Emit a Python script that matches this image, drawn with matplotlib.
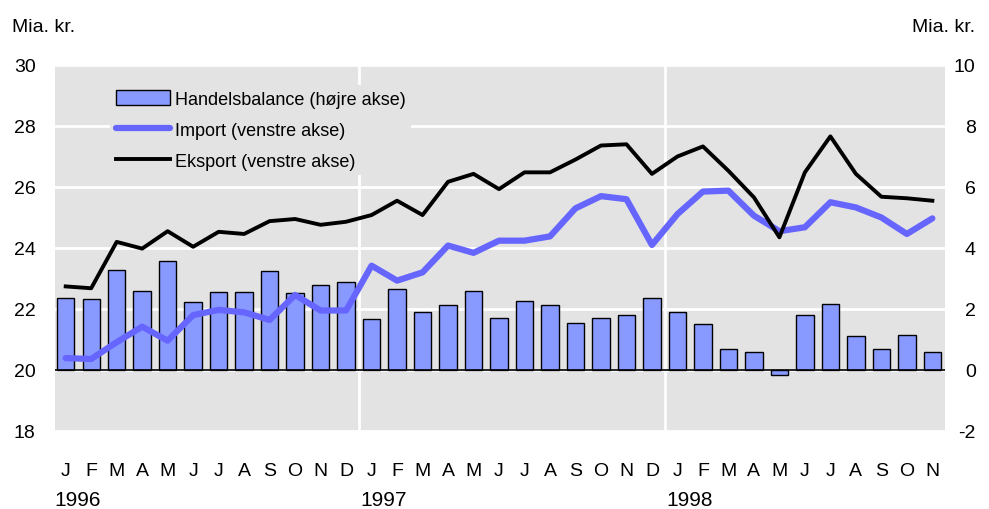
import matplotlib
matplotlib.use("Agg")
import matplotlib.pyplot as plt
import matplotlib.transforms as mtransforms

plt.rcParams['font.family'] = ['Liberation Sans Narrow', 'Liberation Sans', 'DejaVu Sans']
plt.rcParams['axes.unicode_minus'] = False

# data, Jan 1996 - Nov 1998
months = ['J', 'F', 'M', 'A', 'M', 'J', 'J', 'A', 'S', 'O', 'N', 'D'] * 2 + \
         ['J', 'F', 'M', 'A', 'M', 'J', 'J', 'A', 'S', 'O', 'N']
years = ['1996', '1997', '1998']

handelsbalance = [2.36, 2.33, 3.29, 2.60, 3.57, 2.24, 2.56, 2.57, 3.23, 2.52, 2.78, 2.87,
                  1.67, 2.64, 1.89, 2.13, 2.60, 1.69, 2.26, 2.12, 1.54, 1.69, 1.81, 2.35,
                  1.91, 1.50, 0.69, 0.60, -0.16, 1.79, 2.17, 1.12, 0.69, 1.16, 0.58]

eksport = [22.74, 22.68, 24.20, 23.98, 24.55, 24.04, 24.53, 24.46, 24.88, 24.95, 24.76, 24.86,
           25.08, 25.55, 25.08, 26.17, 26.43, 25.93, 26.48, 26.48, 26.90, 27.36, 27.40, 26.43,
           27.00, 27.33, 26.53, 25.66, 24.35, 26.48, 27.66, 26.43, 25.68, 25.63, 25.55]

import_ = [20.39, 20.36, 20.91, 21.42, 20.96, 21.80, 21.97, 21.89, 21.64, 22.46, 21.95, 21.95,
           23.42, 22.93, 23.20, 24.08, 23.84, 24.24, 24.24, 24.38, 25.30, 25.70, 25.60, 24.10,
           25.11, 25.85, 25.88, 25.06, 24.55, 24.68, 25.50, 25.33, 25.00, 24.46, 24.97]

x = list(range(len(months)))

fig = plt.figure(figsize=(9.89, 5.10), dpi=100)
ax = fig.add_axes([0.0556, 0.153, 0.9, 0.7176])
ax.set_facecolor('#e3e3e3')
for s in ax.spines.values():
    s.set_visible(False)

# bars on right-hand scale
ax.set_ylim(-2, 10)
ax.set_xlim(-0.42, 34.5)
ax.set_yticks([-2, 0, 2, 4, 6, 8, 10])
ax.grid(axis='y', color='white', linewidth=2)
for v in [11.5, 23.5]:
    ax.axvline(v, color='white', linewidth=2)
ax.set_axisbelow(True)
bars = ax.bar(x, handelsbalance, width=0.68, color='#8899ff', edgecolor='black', linewidth=1,
              zorder=2)
ax.axhline(0, color='black', linewidth=1.2, zorder=3)

# lines on left-hand scale
ax2 = ax.twinx()
for s in ax2.spines.values():
    s.set_visible(False)
ax2.set_ylim(18, 30)
ax2.set_yticks([18, 20, 22, 24, 26, 28, 30])
ax2.yaxis.tick_left()
ax.yaxis.tick_right()
l_imp, = ax2.plot(x, import_, color='#6666ff', linewidth=4.5, solid_capstyle='round')
l_eks, = ax2.plot(x, eksport, color='black', linewidth=2.8)

ax.tick_params(axis='y', length=0, labelsize=14, pad=22)
for lbl in ax.get_yticklabels():
    lbl.set_horizontalalignment('right')
ax2.tick_params(axis='y', length=0, labelsize=14, pad=14)

ax.set_xticks(x)
ax.set_xticklabels(months)
ax.tick_params(axis='x', length=0, pad=22, labelsize=14)

trans = mtransforms.blended_transform_factory(ax.transData, fig.transFigure)
for i, yr in enumerate(years):
    fig.text(12 * i - 0.45, 0.0, yr, transform=trans, fontsize=15, ha='left', va='bottom')

fig.text(0.012, 0.93, 'Mia. kr.', fontsize=14, ha='left', va='bottom')
fig.text(0.986, 0.93, 'Mia. kr.', fontsize=14, ha='right', va='bottom')

ax2.legend([bars, l_imp, l_eks],
           ['Handelsbalance (højre akse)', 'Import (venstre akse)', 'Eksport (venstre akse)'],
           loc='upper left', bbox_to_anchor=(0.052, 0.97), fontsize=13,
           facecolor='#e3e3e3', edgecolor='none', framealpha=1, fancybox=False,
           handlelength=3.0, handleheight=0.9, handletextpad=0.3, labelspacing=0.72,
           borderpad=0.3)

fig.savefig('out.png', dpi=100)
